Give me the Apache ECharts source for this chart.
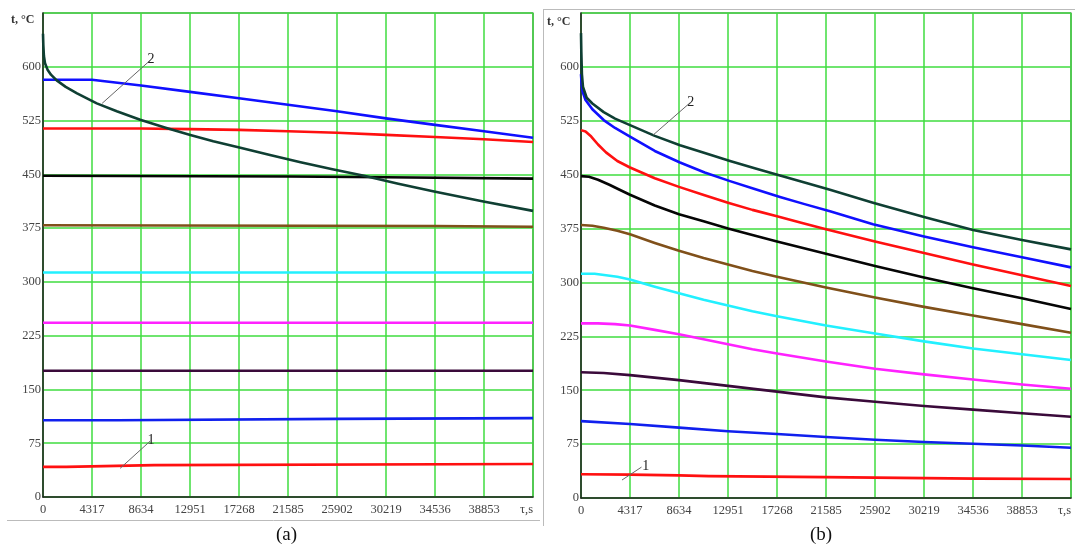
<!DOCTYPE html>
<html><head><meta charset="utf-8">
<script src="https://cdn.jsdelivr.net/npm/echarts@6/dist/echarts.min.js"></script>
<style>html,body{margin:0;padding:0;background:#fff}#c{width:1075px;height:552px}</style>
</head><body><div id="c"></div>
<script>
// ---- axis setup ----
const xTicksStep = 4317;
const xMax = 43170;
const yStep = 75;
const yMax = 675;
const xEndLabel = 'τ,s';
const yName = 't, °C';
const panelLabels = ['(a)', '(b)'];

// ---- panel (a) series: [time s, temperature °C] ----
const aCurve2   = [[0,646],[30,630],[80,615],[177,605],[400,596],[700,589],[1206,581],[2000,572],[3000,563],[4738,549],[6500,538],[8563,526],[10800,515],[12977,505],[15000,496],[17390,487],[20000,477],[22690,467],[25500,457],[28280,448],[31300,437],[34460,426],[38800,412],[43170,399]];
const aBlueTop  = [[0,582],[4300,582],[8634,574],[12951,565],[17268,556],[21585,547],[25902,538],[30219,528],[34536,519],[38853,510],[43170,501]];
const aRedTop   = [[0,514],[8634,514],[12951,513],[17268,512],[21585,510],[25902,508],[30219,505],[34536,502],[38853,499],[43170,495]];
const aBlack    = [[0,448],[21585,447],[30219,446],[43170,444]];
const aBrown    = [[0,379],[34536,378],[43170,377]];
const aCyan     = [[0,313],[43170,313]];
const aMagenta  = [[0,243],[43170,243]];
const aPurple   = [[0,176],[43170,176]];
const aBlueLow  = [[0,107],[6590,107],[6620,109],[25960,109],[26000,110],[43170,110]];
const aRed1     = [[0,42],[2040,42],[2080,44.5],[9800,44.5],[9840,46],[43170,46]];

// ---- panel (b) series ----
const bCurve2   = [[0,647],[30,620],[80,590],[176,572],[500,557],[1000,549],[2000,537],[3000,528],[4317,519],[6500,504],[8722,491],[10900,480],[13127,469],[15300,459],[17530,449],[19700,439],[21937,429],[25726,411],[30219,391],[34536,373],[38853,359],[43170,346]];
const bBlueTop  = [[0,590],[60,575],[150,565],[400,554],[1000,541],[2000,526],[3000,515],[4317,503],[6500,483],[8722,467],[10900,453],[13127,441],[15300,430],[17530,419],[19700,409],[21937,399],[25726,381],[30219,364],[34536,349],[38853,335],[43170,321]];
const bRedTop   = [[0,512],[400,510],[900,503],[1500,492],[2200,481],[3200,469],[4317,460],[6500,445],[8634,433],[10750,422],[12951,411],[15100,401],[17268,392],[19400,383],[21585,374],[25902,357],[30219,341],[34536,325],[38853,310],[43170,295]];
const bBlack    = [[0,448],[700,447],[1500,443],[2500,436],[3400,429],[4317,422],[6500,407],[8634,395],[10800,385],[12951,375],[15100,366],[17268,357],[21585,340],[25902,323],[30219,307],[34536,292],[38853,278],[43170,263]];
const bBrown    = [[0,380],[1000,379],[2000,376],[3200,372],[4317,367],[6500,355],[8634,344],[10800,334],[12951,325],[15100,316],[17268,308],[21585,293],[25902,279],[30219,266],[34536,254],[38853,242],[43170,230]];
const bCyan     = [[0,312],[1200,312],[2200,310],[3200,308],[4317,304],[6500,294],[8634,285],[10800,276],[12951,268],[15100,260],[17268,253],[21585,240],[25902,229],[30219,218],[34536,208],[38853,200],[43170,192]];
const bMagenta  = [[0,243],[1500,243],[3000,242],[4317,240],[6500,234],[8634,228],[10800,221],[12951,214],[15100,207],[17268,201],[21585,190],[25902,180],[30219,172],[34536,165],[38853,158],[43170,152]];
const bPurple   = [[0,175],[2000,174],[4317,171],[8634,164],[12951,156],[17268,148],[21585,140],[25902,134],[30219,128],[34536,123],[38853,118],[43170,113]];
const bBlueLow  = [[0,107],[4317,103],[8634,98],[12951,93],[17268,89],[21585,85],[25902,81],[30219,78],[34536,75.5],[38853,73],[43170,70]];
const bRed1     = [[0,33],[4317,32.5],[8634,31.5],[11270,30.5],[11300,29.5],[21550,29],[21600,27.5],[34690,27],[34720,26.5],[43170,26.5]];

// ---- curve number callouts: [from point, to point, label] in data units ----
const aCallouts = [[[5209,549],[9446,609],'2'],[[6798,40],[9446,78],'1']];
const bCallouts = [[[6343,505],[9603,550],'2'],[[3612,25],[5330,43],'1']];

const colors = {
  curve2:'#0f3f33', blueTop:'#1010ff', redTop:'#ff1010', black:'#050505', brown:'#80501a',
  cyan:'#22f0ff', magenta:'#ff22ff', purple:'#3a0a3a', blueLow:'#1020ee', red1:'#ff1010'
};

const serif = 'Liberation Serif';
function mkAxes(i){
  return {
    x:{type:'value', gridIndex:i, min:0, max:xMax, interval:xTicksStep,
      axisLine:{show:true, onZero:false, lineStyle:{color:'#222', width:1.5}},
      axisTick:{show:false},
      splitLine:{show:true, lineStyle:{color:'#3fdc3f', width:1.5}},
      axisLabel:{fontFamily:serif, fontSize:12.5, color:'#444', margin:6,
        alignMaxLabel:'right',
        formatter:v => v >= xMax ? xEndLabel : String(v)}},
    y:{type:'value', gridIndex:i, min:0, max:yMax, interval:yStep,
      axisLine:{show:true, onZero:false, lineStyle:{color:'#222', width:1.5}},
      axisTick:{show:false},
      splitLine:{show:true, lineStyle:{color:'#3fdc3f', width:1.5}},
      axisLabel:{fontFamily:serif, fontSize:12.5, color:'#444', margin:2, showMaxLabel:false}}
  };
}
const axA = mkAxes(0), axB = mkAxes(1);

function line(data, color, idx, w){
  return {type:'line', data, xAxisIndex:idx, yAxisIndex:idx, showSymbol:false, symbol:'none',
    smooth:false, lineStyle:{color, width:w||2.6, join:'round'}, itemStyle:{color}, z:3, silent:true};
}
function callouts(list, idx){
  return {type:'line', data:[], xAxisIndex:idx, yAxisIndex:idx, silent:true,
    markLine:{silent:true, symbol:['none','none'], animation:false,
      lineStyle:{color:'#666', width:1, type:'solid'},
      label:{show:true, position:'end', formatter:p=>p.data.name||'', fontFamily:serif, fontSize:14, color:'#222', distance:1},
      data:list.map(c=>[{coord:c[0], name:c[2]},{coord:c[1]}])}};
}

const series = [
  line(aBlueTop,colors.blueTop,0), line(aRedTop,colors.redTop,0), line(aBlack,colors.black,0),
  line(aBrown,colors.brown,0), line(aCyan,colors.cyan,0), line(aMagenta,colors.magenta,0),
  line(aPurple,colors.purple,0), line(aBlueLow,colors.blueLow,0), line(aRed1,colors.red1,0),
  line(aCurve2,colors.curve2,0),
  line(bBlueTop,colors.blueTop,1), line(bRedTop,colors.redTop,1), line(bBlack,colors.black,1),
  line(bBrown,colors.brown,1), line(bCyan,colors.cyan,1), line(bMagenta,colors.magenta,1),
  line(bPurple,colors.purple,1), line(bBlueLow,colors.blueLow,1), line(bRed1,colors.red1,1),
  line(bCurve2,colors.curve2,1),
  callouts(aCallouts,0), callouts(bCallouts,1)
];

const chart = echarts.init(document.getElementById('c'), null, {renderer:'canvas'});
chart.setOption({
  animation:false,
  backgroundColor:'#fff',
  grid:[
    {left:43, top:13, width:490, height:484, show:true, borderColor:'#444', borderWidth:1.2, backgroundColor:'#fff'},
    {left:581, top:13, width:490, height:485, show:true, borderColor:'#444', borderWidth:1.2, backgroundColor:'#fff'}
  ],
  xAxis:[axA.x, axB.x],
  yAxis:[axA.y, axB.y],
  graphic:[
    {type:'line', shape:{x1:7,y1:520.5,x2:540,y2:520.5}, style:{stroke:'#bbb', lineWidth:1}},
    {type:'line', shape:{x1:543.5,y1:10,x2:543.5,y2:526}, style:{stroke:'#bbb', lineWidth:1}},
    {type:'line', shape:{x1:543,y1:9.5,x2:1075,y2:9.5}, style:{stroke:'#bbb', lineWidth:1}},
    {type:'text', left:11, top:14, style:{text:yName, font:'bold 12px "Liberation Serif"', fill:'#333'}},
    {type:'text', left:547, top:16, style:{text:yName, font:'bold 12px "Liberation Serif"', fill:'#333'}},
    {type:'text', left:276, top:526, style:{text:panelLabels[0], font:'19px "Liberation Serif"', fill:'#111'}},
    {type:'text', left:810, top:526, style:{text:panelLabels[1], font:'19px "Liberation Serif"', fill:'#111'}}
  ],
  series
});
</script></body></html>
